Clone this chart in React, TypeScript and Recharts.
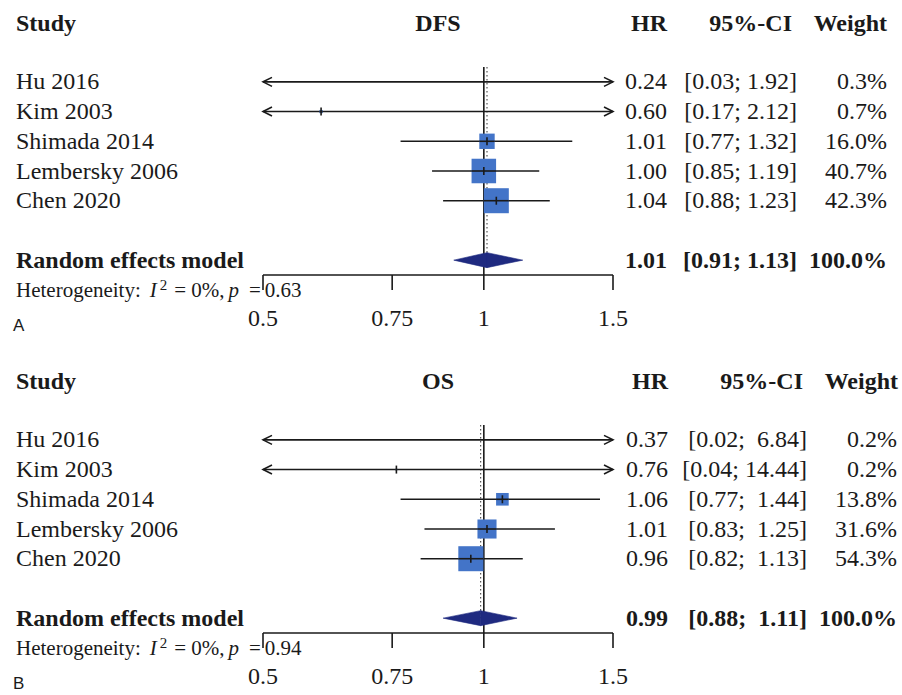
import React from "react";
import { ComposedChart, Scatter, XAxis, YAxis, ReferenceLine } from "recharts";

// studies (same order in both panels)
const studies = ["Hu 2016", "Kim 2003", "Shimada 2014", "Lembersky 2006", "Chen 2020"];

// DFS panel
const dfsHR = [0.24, 0.6, 1.01, 1.0, 1.04];
const dfsLower = [0.03, 0.17, 0.77, 0.85, 0.88];
const dfsUpper = [1.92, 2.12, 1.32, 1.19, 1.23];
const dfsWeight = [0.3, 0.7, 16.0, 40.7, 42.3];
const dfsPooled = [1.01, 0.91, 1.13]; // HR, lower, upper
const dfsHet = ["0%", "0.63"]; // I2, p

// OS panel
const osHR = [0.37, 0.76, 1.06, 1.01, 0.96];
const osLower = [0.02, 0.04, 0.77, 0.83, 0.82];
const osUpper = [6.84, 14.44, 1.44, 1.25, 1.13];
const osWeight = [0.2, 0.2, 13.8, 31.6, 54.3];
const osPooled = [0.99, 0.88, 1.11];
const osHet = ["0%", "0.94"];

const xTicks = [0.5, 0.75, 1, 1.5];

const SERIF = '"Liberation Serif", "Times New Roman", serif';
const SANS = '"Liberation Sans", Arial, sans-serif';
const INK = "#1a1a1a";
const BOX = "#4374c8";
const NAVY = "#1f2a80";

const W = 902;
const H = 337;
const POOLED_ROW = studies.length + 2;

type Cols = { hr: number; ci: number; w: number; ciHead: number; wHead: number };

type PanelProps = {
  letter: string;
  title: string;
  hr: number[];
  lower: number[];
  upper: number[];
  weight: number[];
  pooled: number[];
  het: string[];
  cols: Cols;
};

const fmtCi = (lo: number, hi: number, padTo: number) => {
  const h = hi.toFixed(2);
  return `[${lo.toFixed(2)}; ${" ".repeat(Math.max(0, padTo - h.length))}${h}]`;
};

function Panel({ letter, title, hr, lower, upper, weight, pooled, het, cols }: PanelProps) {
  const xMin = xTicks[0];
  const xMax = xTicks[xTicks.length - 1];
  const maxW = Math.max(...weight);
  const padTo = Math.max(...upper.map((u) => u.toFixed(2).length), pooled[2].toFixed(2).length);

  const rows = studies.map((name, i) => ({
    name,
    x: hr[i],
    y: i + 1,
    lo: lower[i],
    hi: upper[i],
    w: weight[i],
  }));

  const Box = (p: any) => {
    const { cx, cy, payload } = p;
    const s = 25 * Math.sqrt(payload.w / maxW);
    return (
      <g>
        <rect x={cx - s / 2} y={cy - s / 2} width={s} height={s} fill={BOX} />
        <line x1={cx - s / 2} x2={cx + s / 2} y1={cy} y2={cy} stroke={INK} strokeWidth={1.6} />
        <line x1={cx} x2={cx} y1={cy - 4} y2={cy + 4} stroke={INK} strokeWidth={1.6} />
      </g>
    );
  };

  const ciShape = (leftArrow: boolean, rightArrow: boolean) => (p: any) => {
    const { x1, y1, x2, y2 } = p;
    return (
      <g>
        <line x1={x1} y1={y1} x2={x2} y2={y2} stroke={INK} strokeWidth={1.6} />
        {leftArrow && (
          <polyline
            points={`${x1 + 9},${y1 - 4.5} ${x1},${y1} ${x1 + 9},${y1 + 4.5}`}
            fill="none"
            stroke={INK}
            strokeWidth={1.6}
          />
        )}
        {rightArrow && (
          <polyline
            points={`${x2 - 9},${y2 - 4.5} ${x2},${y2} ${x2 - 9},${y2 + 4.5}`}
            fill="none"
            stroke={INK}
            strokeWidth={1.6}
          />
        )}
      </g>
    );
  };

  const leftHalf = (p: any) => (
    <polygon
      points={`${p.x1},${p.y1} ${p.x2},${p.y1 - 7.5} ${p.x2},${p.y1 + 7.5}`}
      fill={NAVY}
      stroke={NAVY}
      strokeWidth={0.6}
    />
  );
  const rightHalf = (p: any) => (
    <polygon
      points={`${p.x1},${p.y1 - 7.5} ${p.x2},${p.y2} ${p.x1},${p.y1 + 7.5}`}
      fill={NAVY}
      stroke={NAVY}
      strokeWidth={0.6}
    />
  );

  // row texts hang off the y axis ticks so they follow the row scale
  const RowText = (p: any) => {
    const row = p.payload.value;
    const y = p.y + 7.5;
    if (row === POOLED_ROW) {
      return (
        <g fontFamily={SERIF} fontSize={24} fontWeight="bold" fill={INK}>
          <text x={16} y={y}>Random effects model</text>
          <text x={cols.hr} y={y} textAnchor="end">{pooled[0].toFixed(2)}</text>
          <text x={cols.ci} y={y} textAnchor="end" style={{ whiteSpace: "pre" }}>
            {fmtCi(pooled[1], pooled[2], padTo)}
          </text>
          <text x={cols.w} y={y} textAnchor="end">100.0%</text>
        </g>
      );
    }
    const r = rows[row - 1];
    if (!r) return <g />;
    return (
      <g fontFamily={SERIF} fontSize={24} fill={INK}>
        <text x={16} y={y}>{r.name}</text>
        <text x={cols.hr} y={y} textAnchor="end">{r.x.toFixed(2)}</text>
        <text x={cols.ci} y={y} textAnchor="end" style={{ whiteSpace: "pre" }}>
          {fmtCi(r.lo, r.hi, padTo)}
        </text>
        <text x={cols.w} y={y} textAnchor="end">{r.w.toFixed(1)}%</text>
      </g>
    );
  };

  return (
    <div style={{ position: "relative", width: W, height: H }}>
      <ComposedChart width={W} height={H} margin={{ top: 67, right: 289, bottom: 17, left: 261 }}>
        <XAxis
          type="number"
          dataKey="x"
          scale="log"
          domain={[xMin, xMax]}
          allowDataOverflow
          ticks={xTicks}
          interval={0}
          height={45}
          tickSize={15}
          tickMargin={19}
          axisLine={{ stroke: INK, strokeWidth: 1.6 }}
          tickLine={{ stroke: INK, strokeWidth: 1.6 }}
          tick={{ fontFamily: SERIF, fontSize: 24, fill: INK }}
          tickFormatter={(v: number) => String(v)}
        />
        <YAxis
          type="number"
          dataKey="y"
          domain={[0.5, POOLED_ROW + 0.5]}
          reversed
          width={2}
          ticks={[...rows.map((r) => r.y), POOLED_ROW]}
          interval={0}
          axisLine={false}
          tickLine={false}
          tick={(p: any) => <RowText {...p} />}
        />
        <ReferenceLine x={1} stroke={INK} strokeWidth={1.6} />
        <ReferenceLine
          segment={[
            { x: pooled[0], y: 0.5 },
            { x: pooled[0], y: POOLED_ROW },
          ]}
          stroke="#555"
          strokeWidth={1.2}
          strokeDasharray="1.5 2.5"
        />
        <Scatter data={rows} shape={Box} isAnimationActive={false} />
        {rows.map((r) => {
          const lo = Math.max(r.lo, xMin);
          const hi = Math.min(r.hi, xMax);
          return (
            <ReferenceLine
              key={r.name}
              segment={[
                { x: lo, y: r.y },
                { x: hi, y: r.y },
              ]}
              shape={ciShape(r.lo < xMin, r.hi > xMax)}
            />
          );
        })}
        <ReferenceLine
          segment={[
            { x: pooled[1], y: POOLED_ROW },
            { x: pooled[0], y: POOLED_ROW },
          ]}
          shape={leftHalf}
        />
        <ReferenceLine
          segment={[
            { x: pooled[0], y: POOLED_ROW },
            { x: pooled[2], y: POOLED_ROW },
          ]}
          shape={rightHalf}
        />
      </ComposedChart>
      <svg
        width={W}
        height={H}
        style={{ position: "absolute", left: 0, top: 0, pointerEvents: "none" }}
      >
        <g fontFamily={SERIF} fontSize={24} fontWeight="bold" fill={INK}>
          <text x={16} y={30.5}>Study</text>
          <text x={438} y={30.5} textAnchor="middle">{title}</text>
          <text x={cols.hr} y={30.5} textAnchor="end">HR</text>
          <text x={cols.ciHead} y={30.5} textAnchor="end">95%-CI</text>
          <text x={cols.wHead} y={30.5} textAnchor="end">Weight</text>
        </g>
        <text x={16} y={297} fontFamily={SERIF} fontSize={21} fill={INK}>
          <tspan>Heterogeneity:</tspan>
          <tspan dx={9} fontStyle="italic">I</tspan>
          <tspan fontSize={15} dy={-7} dx={3}>2</tspan>
          <tspan dy={7} dx={7}>=</tspan>
          <tspan dx={5}>{het[0]},</tspan>
          <tspan dx={4} fontStyle="italic">p</tspan>
          <tspan dx={10}>=</tspan>
          <tspan dx={4}>{het[1]}</tspan>
        </text>
        <text x={13} y={331} fontFamily={SANS} fontSize={17} fill={INK}>{letter}</text>
      </svg>
    </div>
  );
}

export default function App() {
  return (
    <div style={{ position: "absolute", left: 0, top: 0, width: W, height: 695, background: "#fff" }}>
      <div style={{ position: "absolute", left: 0, top: 0 }}>
        <Panel
          letter="A"
          title="DFS"
          hr={dfsHR}
          lower={dfsLower}
          upper={dfsUpper}
          weight={dfsWeight}
          pooled={dfsPooled}
          het={dfsHet}
          cols={{ hr: 667, ci: 797, w: 887, ciHead: 792, wHead: 887 }}
        />
      </div>
      <div style={{ position: "absolute", left: 0, top: 358 }}>
        <Panel
          letter="B"
          title="OS"
          hr={osHR}
          lower={osLower}
          upper={osUpper}
          weight={osWeight}
          pooled={osPooled}
          het={osHet}
          cols={{ hr: 668, ci: 807, w: 897, ciHead: 803, wHead: 898 }}
        />
      </div>
    </div>
  );
}
